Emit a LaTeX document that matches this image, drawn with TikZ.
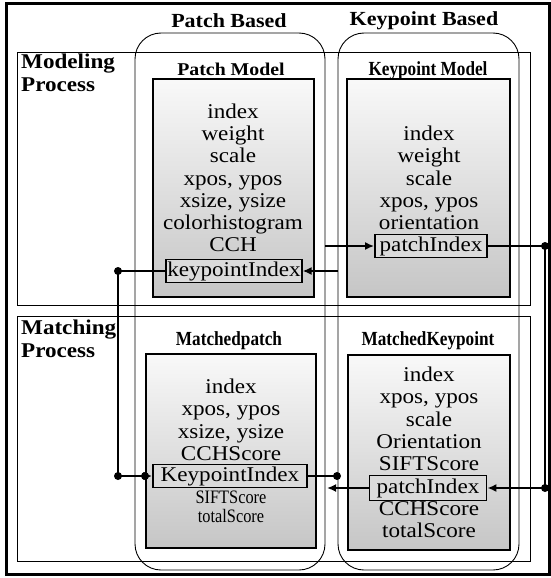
\documentclass[tikz,border=0pt]{standalone}
\usepackage{fontspec}
\setmainfont[FakeStretch=1.1]{Liberation Serif}
\newfontfamily\condfont[FakeStretch=0.86]{Liberation Serif}
\usetikzlibrary{arrows.meta}
\begin{document}
\begin{tikzpicture}[x=1pt,y=-1pt,
  outerframe/.style={line width=3pt},
  proc/.style={line width=0.9pt},
  group/.style={line width=0.9pt, rounded corners=26pt},
  panel/.style={draw, line width=1.8pt, top color=gray!5, bottom color=gray!45},
  field/.style={draw, line width=1.8pt, fill=gray!28, inner sep=1pt, minimum height=23pt, text height=14pt, text depth=4pt, font=\fontsize{21}{22}\selectfont},
  txt/.style={inner sep=0pt, text height=14pt, text depth=4pt, font=\fontsize{21}{22}\selectfont},
  smalltxt/.style={inner sep=0pt, text height=12pt, text depth=3pt, font=\condfont\fontsize{19}{19}\selectfont},
  grouptitle/.style={inner sep=0pt, font=\bfseries\fontsize{20}{22}\selectfont},
  paneltitle/.style={inner sep=0pt, text height=14pt, text depth=4pt, font=\bfseries\fontsize{18}{20}\selectfont},
  condtitle/.style={inner sep=0pt, text height=14pt, text depth=4pt, font=\condfont\bfseries\fontsize{20}{20}\selectfont},
  proctitle/.style={inner sep=0pt, align=left, anchor=north west, font=\bfseries\fontsize{21}{23}\selectfont},
  conn/.style={line width=1.8pt},
  arr/.style={conn, -{Latex[length=9pt,width=8pt]}},
  dot/.style={circle, fill, inner sep=0pt, minimum size=8pt}]
\useasboundingbox (0,0) rectangle (550,578);

% frames
\draw[outerframe] (6,4) rectangle (549,574);
\draw[proc] (17,52) rectangle (530,305);
\draw[proc] (17,316) rectangle (530,561);
\draw[group] (135,33) rectangle (325,570);
\draw[group] (338,33) rectangle (519,570);

% panels
\draw[panel] (153,79) rectangle (314,297);
\draw[panel] (347,79) rectangle (510,297);
\draw[panel] (146,354) rectangle (316,548);
\draw[panel] (348,355) rectangle (510,550);

% titles
\node[grouptitle] (tpb) at (229,21) {Patch Based};
\node[grouptitle] (tkb) at (424,21) {Keypoint Based};
\node[proctitle] (tmod) at (21,54) {Modeling\\Process};
\node[proctitle] (tmat) at (21,320) {Matching\\Process};
\node[paneltitle] (tpm) at (231,70) {Patch Model};
\node[condtitle] (tkm) at (428,70) {Keypoint Model};
\node[condtitle] (tmp) at (229,340) {Matchedpatch};
\node[condtitle] (tmk) at (428,340) {MatchedKeypoint};

% Patch Model
\node[txt] (pm1) at (233,113) {index};
\node[txt] (pm2) at (233,135) {weight};
\node[txt] (pm3) at (233,157) {scale};
\node[txt] (pm4) at (233,180) {xpos, ypos};
\node[txt] (pm5) at (233,202) {xsize, ysize};
\node[txt] (pm6) at (233,224) {colorhistogram};
\node[txt] (pm7) at (233,246) {CCH};
\node[field, minimum width=132pt] (ki1) at (234,271) {keypointIndex};

% Keypoint Model
\node[txt] (km1) at (429,135) {index};
\node[txt] (km2) at (429,157) {weight};
\node[txt] (km3) at (429,180) {scale};
\node[txt] (km4) at (429,202) {xpos, ypos};
\node[txt] (km5) at (429,224) {orientation};
\node[field, minimum width=112pt] (pi1) at (431,246) {patchIndex};

% Matched patch
\node[txt] (mp1) at (231,388) {index};
\node[txt] (mp2) at (231,410) {xpos, ypos};
\node[txt] (mp3) at (231,433) {xsize, ysize};
\node[txt] (mp4) at (231,455) {CCHScore};
\node[field, minimum width=154pt] (ki2) at (230,476) {KeypointIndex};
\node[smalltxt] (mp5) at (231,499) {SIFTScore};
\node[smalltxt] (mp6) at (231,518) {totalScore};

% Matched keypoint
\node[txt] (mk1) at (429,376) {index};
\node[txt] (mk2) at (429,398) {xpos, ypos};
\node[txt] (mk3) at (429,421) {scale};
\node[txt] (mk4) at (429,443) {Orientation};
\node[txt] (mk5) at (429,465) {SIFTScore};
\node[field, minimum width=117pt, minimum height=25pt] (pi2) at (428,488) {patchIndex};
\node[txt] (mk6) at (429,510) {CCHScore};
\node[txt] (mk7) at (429,532) {totalScore};

% connector points
\coordinate (a1) at (325,246);
\node[dot] (dR1) at (545,246) {};
\node[dot] (dR2) at (545,488) {};
\coordinate (a2) at (327,488);
\coordinate (a3) at (338,271);
\node[dot] (dL1) at (118,271) {};
\node[dot] (dL2) at (118,476) {};
\node[dot] (dM) at (145,476) {};
\node[dot] (dK) at (337,476) {};

% connectors
\draw[arr] (a1) -- (pi1.west);
\draw[conn] (pi1.east) -- (dR1.center) -- (dR2.center);
\draw[arr] (dR2.center) -- (pi2.east);
\draw[arr] (pi2.west) -- (a2);
\draw[arr] (a3) -- (ki1.east);
\draw[conn] (ki1.west) -- (dL1.center) -- (dL2.center) -- (dM.center);
\draw[arr] (dM.center) -- (ki2.west);
\draw[conn] (ki2.east) -- (dK.center);
\end{tikzpicture}
\end{document}
